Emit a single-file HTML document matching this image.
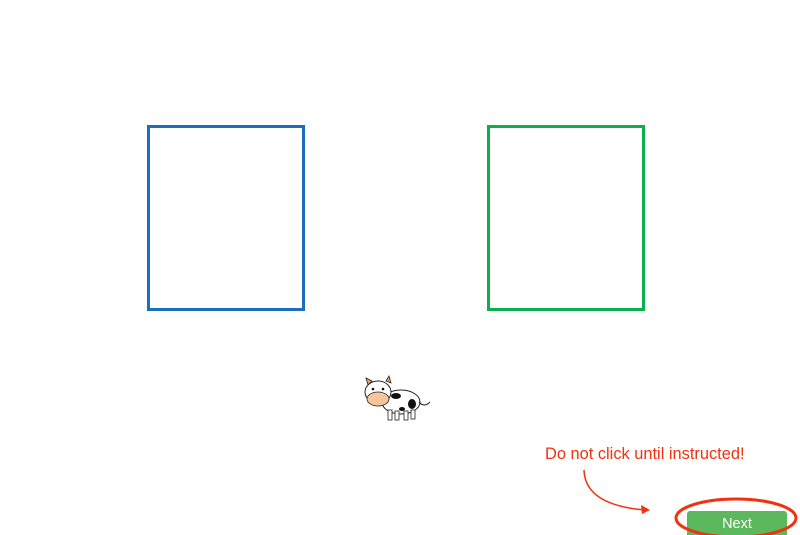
<!DOCTYPE html>
<html><head><meta charset="utf-8"><style>
html,body{margin:0;padding:0;background:#fff;width:800px;height:535px;overflow:hidden;position:relative;font-family:"Liberation Sans",sans-serif}
.box{position:absolute;box-sizing:border-box;border:3px solid}
#warn{position:absolute;left:545px;top:445px;font-size:16.4px;color:#f2310f;white-space:nowrap}
#next{position:absolute;left:687px;top:511px;width:100px;height:28px;background:#5cb85c;color:#fff;font-size:14.5px;text-align:center;line-height:26px;border-radius:3px}
svg{position:absolute;left:0;top:0}
</style></head><body>
<div class="box" style="left:147px;top:125px;width:158px;height:186px;border-color:#1b6fbd"></div>
<div class="box" style="left:487px;top:125px;width:158px;height:186px;border-color:#0bb04c"></div>
<div id="next">Next</div>
<div id="warn">Do not click until instructed!</div>
<svg width="800" height="535">
 <g>
  <ellipse cx="401" cy="402" rx="19" ry="12" fill="#fff" stroke="#222" stroke-width="1"/>
  <ellipse cx="396" cy="396" rx="5" ry="3" fill="#111"/>
  <ellipse cx="412" cy="404" rx="4" ry="5" fill="#111"/>
  <ellipse cx="402" cy="409" rx="3" ry="2" fill="#111"/>
  <path d="M419 402 Q424 408 430 402" stroke="#222" fill="none"/>
  <rect x="388" y="410" width="4" height="10" fill="#fff" stroke="#222" stroke-width=".8"/>
  <rect x="395" y="411" width="4" height="9" fill="#fff" stroke="#222" stroke-width=".8"/>
  <rect x="404" y="411" width="4" height="9" fill="#fff" stroke="#222" stroke-width=".8"/>
  <rect x="411" y="410" width="4" height="9" fill="#fff" stroke="#222" stroke-width=".8"/>
  <path d="M368 385 L366 378 L372 381 Z M386 381 L389 376 L391 383 Z" fill="#e8a070" stroke="#222" stroke-width=".8"/>
  <ellipse cx="378" cy="392" rx="13" ry="11" fill="#fff" stroke="#222" stroke-width="1"/>
  <ellipse cx="378" cy="399" rx="11" ry="7" fill="#f6c59a" stroke="#222" stroke-width=".8"/>
  <circle cx="373" cy="389" r="1.3" fill="#111"/><circle cx="383" cy="389" r="1.3" fill="#111"/>
 </g>
 <path d="M584 470 Q585 505 645 510" stroke="#f2310f" stroke-width="1.5" fill="none"/>
 <path d="M650 510 L641 505 L642 514 Z" fill="#f2310f"/>
 <ellipse cx="736" cy="518" rx="60" ry="19" stroke="#f2310f" stroke-width="3" fill="none"/>
</svg>
</body></html>
